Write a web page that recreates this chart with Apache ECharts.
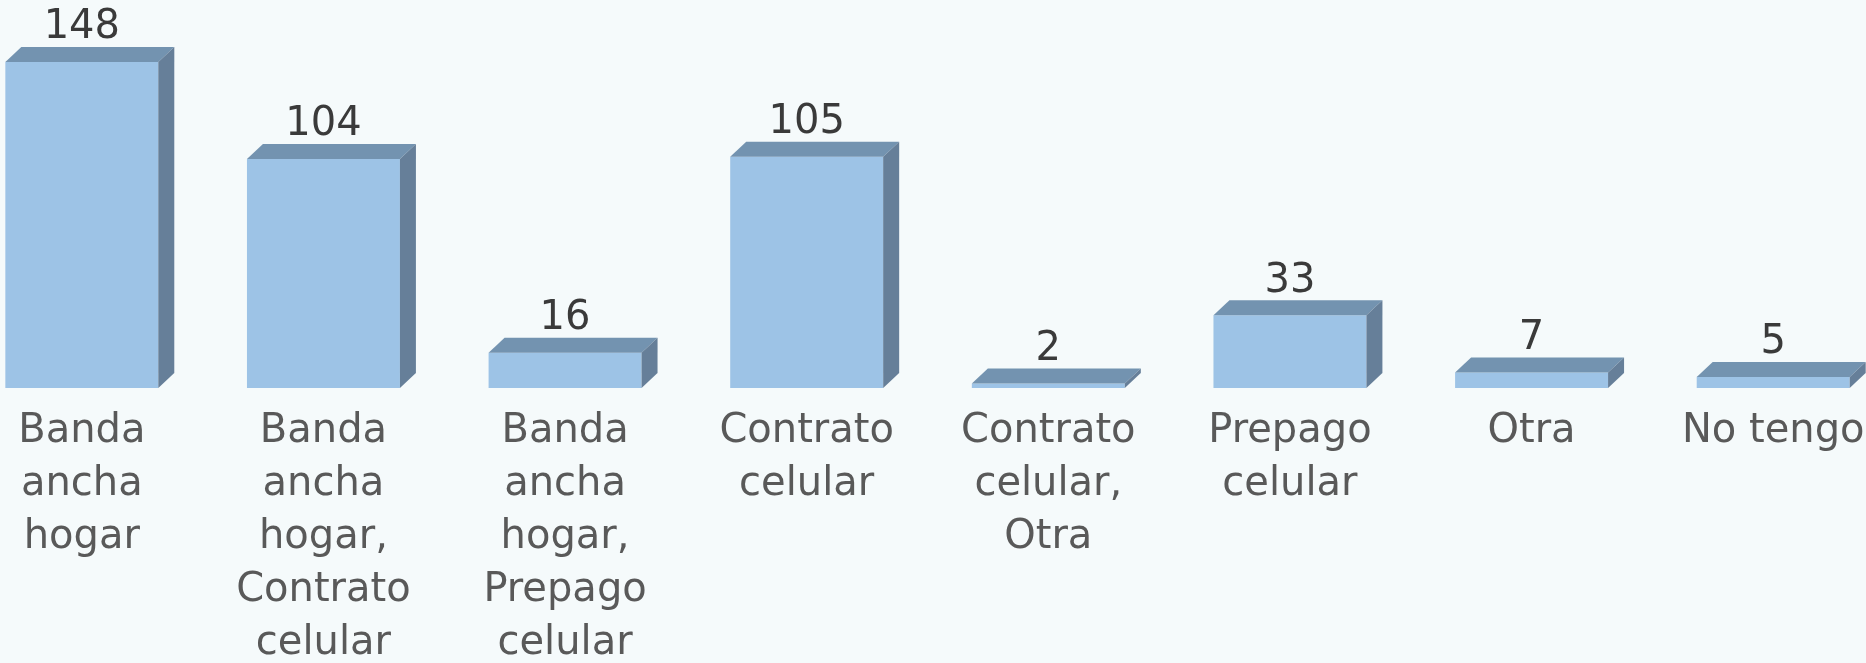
<!DOCTYPE html>
<html>
<head>
<meta charset="utf-8">
<script src="https://cdn.jsdelivr.net/npm/echarts@6/dist/echarts.min.js"></script>
<style>
  html, body { margin: 0; padding: 0; background: #f5fafb; }
  #chart { width: 1866px; height: 663px; }
</style>
</head>
<body>
<div id="chart"></div>
<script>
// datos
const categories = [
  'Banda\nancha\nhogar',
  'Banda\nancha\nhogar,\nContrato\ncelular',
  'Banda\nancha\nhogar,\nPrepago\ncelular',
  'Contrato\ncelular',
  'Contrato\ncelular,\nOtra',
  'Prepago\ncelular',
  'Otra',
  'No tengo'
]
const values = [148, 104, 16, 105, 2, 33, 7, 5]

const FRONT = '#9dc3e6'
const TOP = '#7393b0'
const SIDE = '#667f99'
const DX = 16
const DY = 15

const myChart = echarts.init(document.getElementById('chart'))

// barra 3D: cara frontal + tapa + lateral
function renderBar(params, api) {
  const i = api.value(0)
  const v = api.value(1)
  const top = api.coord([i, v])
  const base = api.coord([i, 0])
  const band = api.size([1, 0])[0]
  const w = band * 0.633
  const x0 = top[0] - w / 2
  const x1 = top[0] + w / 2
  const yt = top[1]
  const yb = base[1]
  return {
    type: 'group',
    children: [
      {
        type: 'rect',
        shape: { x: x0, y: yt, width: w, height: yb - yt },
        style: { fill: FRONT }
      },
      {
        type: 'polygon',
        shape: { points: [[x0, yt], [x0 + DX, yt - DY], [x1 + DX, yt - DY], [x1, yt]] },
        style: { fill: TOP }
      },
      {
        type: 'polygon',
        shape: { points: [[x1, yt], [x1 + DX, yt - DY], [x1 + DX, yb - DY], [x1, yb]] },
        style: { fill: SIDE }
      },
      {
        type: 'text',
        x: top[0],
        y: yt - DY + 1,
        style: {
          text: String(v),
          align: 'center',
          verticalAlign: 'bottom',
          fontFamily: 'DejaVu Sans',
          fontSize: 40,
          fill: '#3a3a3a'
        }
      }
    ]
  }
}

const option = {
  backgroundColor: '#f5fafb',
  animation: false,
  grid: {
    left: -39,
    right: -28,
    top: 35.6,
    bottom: 275,
    outerBoundsMode: 'none',
    containLabel: false
  },
  xAxis: {
    type: 'category',
    data: categories,
    axisLine: { show: false },
    axisTick: { show: false },
    axisLabel: {
      interval: 0,
      margin: 17,
      fontFamily: 'DejaVu Sans',
      fontSize: 40,
      lineHeight: 53,
      color: '#595959',
      align: 'center'
    }
  },
  yAxis: {
    type: 'value',
    min: 0,
    max: 160,
    show: false,
    splitLine: { show: false }
  },
  series: [
    {
      type: 'custom',
      renderItem: renderBar,
      data: values.map((v, i) => [i, v]),
      encode: { x: 0, y: 1 }
    }
  ]
}
myChart.setOption(option)
</script>
</body>
</html>
